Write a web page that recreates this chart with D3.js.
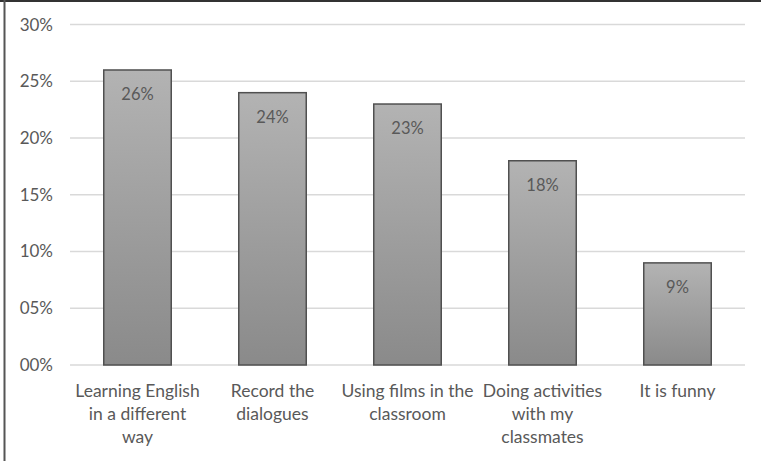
<!DOCTYPE html>
<html><head><meta charset="utf-8">
<script src="https://cdn.jsdelivr.net/npm/d3@7"></script>
<style>body{margin:0;background:#fff}svg{display:block}</style>
</head><body>
<svg id="c" width="761" height="461"></svg>
<script>
const categories = [["Learning English","in a different","way"],["Record the","dialogues"],["Using films in the","classroom"],["Doing activities","with my","classmates"],["It is funny"]];
const values = [26, 24, 23, 18, 9];
const ticks = [0, 5, 10, 15, 20, 25, 30];
const tickLabels = ["00%","05%","10%","15%","20%","25%","30%"];

const svg = d3.select("#c");
const font = "Lato, 'Open Sans', sans-serif";
const x = d3.scaleBand().domain(d3.range(values.length)).range([70, 745]).paddingInner(0.5).paddingOuter(0.25);
const y = d3.scaleLinear().domain([0, 30]).range([365, 24.6]);

const defs = svg.append("defs");
const g = defs.append("linearGradient").attr("id","bg").attr("x1",0).attr("y1",0).attr("x2",0).attr("y2",1);
g.append("stop").attr("offset","0%").attr("stop-color","#b3b3b3");
g.append("stop").attr("offset","100%").attr("stop-color","#8a8a8a");

// frame
svg.append("line").attr("x1",0).attr("x2",761).attr("y1",1).attr("y2",1).attr("stroke","#333").attr("stroke-width",2);
svg.append("line").attr("x1",4.5).attr("x2",4.5).attr("y1",0).attr("y2",461).attr("stroke","#555").attr("stroke-width",2);

// grid
svg.append("g").selectAll("line").data(ticks).join("line")
  .attr("x1",70).attr("x2",745).attr("y1",d=>y(d)).attr("y2",d=>y(d))
  .attr("stroke","#d9d9d9").attr("stroke-width",1.5);

// y labels
svg.append("g").selectAll("text").data(ticks).join("text")
  .attr("x",53).attr("y",d=>y(d)).attr("dy","0.35em").attr("text-anchor","end")
  .attr("font-family",font).attr("font-size",17).attr("fill","#595959")
  .text((d,i)=>tickLabels[i]);

// bars
svg.append("g").selectAll("rect").data(values).join("rect")
  .attr("x",(d,i)=>x(i)).attr("width",x.bandwidth())
  .attr("y",d=>y(d)).attr("height",d=>y(0)-y(d))
  .attr("fill","url(#bg)").attr("stroke","#505050").attr("stroke-width",1.5);

// value labels
svg.append("g").selectAll("text").data(values).join("text")
  .attr("x",(d,i)=>x(i)+x.bandwidth()/2).attr("y",d=>y(d)+30)
  .attr("text-anchor","middle").attr("font-family",font).attr("font-size",16.5).attr("fill","#595959")
  .text(d=>d+"%");

// x labels
const xl = svg.append("g").selectAll("text").data(categories).join("text")
  .attr("x",(d,i)=>x(i)+x.bandwidth()/2).attr("y",397)
  .attr("text-anchor","middle").attr("font-family",font).attr("font-size",17.5).attr("fill","#595959");
xl.each(function(d,i){
  const t = d3.select(this);
  d.forEach((ln,j)=>t.append("tspan").attr("x",x(i)+x.bandwidth()/2).attr("dy", j===0?0:23).text(ln));
});
</script>
</body></html>
